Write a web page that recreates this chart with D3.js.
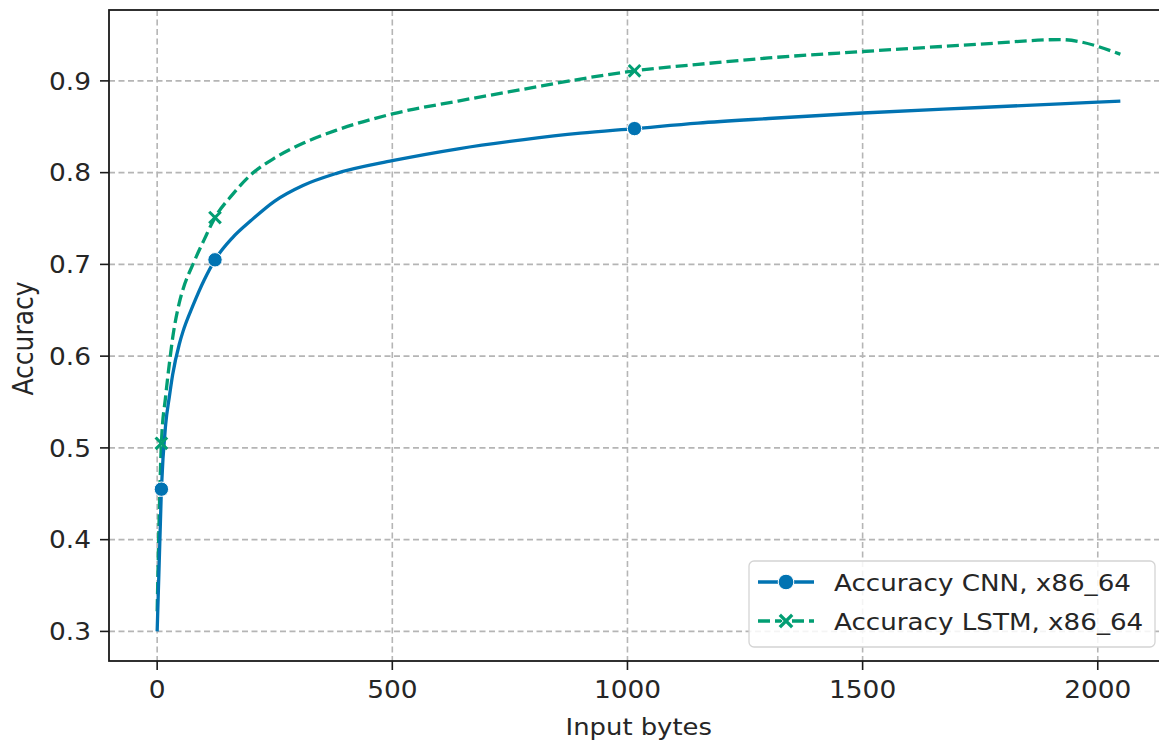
<!DOCTYPE html>
<html>
<head>
<meta charset="utf-8">
<script src="https://cdn.jsdelivr.net/npm/d3@7"></script>
<style>
  html, body { margin: 0; padding: 0; background: #fff; }
  svg text { font-family: "DejaVu Sans", sans-serif; fill: #262626; }
</style>
</head>
<body>
<svg id="chart" width="1159" height="742"></svg>
<script>
// Input sizes (bytes) at which both models were evaluated
const inputBytes = [0, 9, 18, 26, 33, 47, 55, 76, 100, 123, 160, 200, 250, 310, 380, 500, 640, 780, 900, 1015, 1150, 1300, 1500, 1750, 1920, 2048];
// Accuracy of each model at those sizes
const accuracyCNN  = [0.300, 0.455, 0.525, 0.556, 0.580, 0.613, 0.627, 0.655, 0.683, 0.705, 0.729, 0.748, 0.769, 0.786, 0.799, 0.813, 0.826, 0.836, 0.843, 0.848, 0.854, 0.859, 0.865, 0.871, 0.875, 0.878];
const accuracyLSTM = [0.322, 0.505, 0.556, 0.592, 0.620, 0.658, 0.673, 0.700, 0.727, 0.751, 0.776, 0.798, 0.816, 0.832, 0.846, 0.864, 0.878, 0.891, 0.902, 0.911, 0.918, 0.925, 0.932, 0.940, 0.945, 0.929];
// Sizes that carry a marker
const markerBytes = [9, 123, 1015];
const seriesNames = ["Accuracy CNN, x86_64", "Accuracy LSTM, x86_64"];
const xTicks = [0, 500, 1000, 1500, 2000];
const yTicks = [0.3, 0.4, 0.5, 0.6, 0.7, 0.8, 0.9];

const colCNN = "#0173b2", colLSTM = "#029e73";
const sx = 1.1; // horizontal text stretch
const lw = 3.3;
const dash = "12,5";
const svg = d3.select("#chart");

const plot = { left: 109, top: 10, bottom: 661 };
const xMin = d3.min(inputBytes), xMax = d3.max(inputBytes);
const xPad = (xMax - xMin) * 0.05;
const yMin = d3.min([...accuracyCNN, ...accuracyLSTM]);
const yMax = d3.max([...accuracyCNN, ...accuracyLSTM]);
const yPad = (yMax - yMin) * 0.05;

const x = d3.scaleLinear().domain([xMin - xPad, xMax + xPad]).range([plot.left, plot.left + 1059.5]);
const y = d3.scaleLinear().domain([yMin - yPad, yMax + yPad]).range([plot.bottom, plot.top]);
const right = x.range()[1];

// grid
const grid = svg.append("g").attr("stroke", "#b5b5b5").attr("stroke-width", 1.6).attr("stroke-dasharray", "6,3.5");
xTicks.forEach(t => grid.append("line").attr("x1", x(t)).attr("x2", x(t)).attr("y1", plot.top).attr("y2", plot.bottom));
yTicks.forEach(t => grid.append("line").attr("x1", plot.left).attr("x2", right).attr("y1", y(t)).attr("y2", y(t)));

// lines
const cnnData = inputBytes.map((b, i) => [b, accuracyCNN[i]]);
const lstmData = inputBytes.map((b, i) => [b, accuracyLSTM[i]]);
const line = d3.line().x(d => x(d[0])).y(d => y(d[1])).curve(d3.curveMonotoneX);

svg.append("path").datum(lstmData).attr("d", line).attr("fill", "none")
  .attr("stroke", colLSTM).attr("stroke-width", lw).attr("stroke-dasharray", dash);
svg.append("path").datum(cnnData).attr("d", line).attr("fill", "none")
  .attr("stroke", colCNN).attr("stroke-width", lw);

// markers
markerBytes.forEach(b => {
  const i = inputBytes.indexOf(b);
  svg.append("circle").attr("cx", x(b)).attr("cy", y(accuracyCNN[i])).attr("r", 7.2)
    .attr("fill", colCNN).attr("stroke", "#fff").attr("stroke-width", 1);
  const cx = x(b), cy = y(accuracyLSTM[i]), s = 5.8;
  const g = svg.append("g").attr("stroke", colLSTM).attr("stroke-width", 3).attr("stroke-linecap", "butt");
  g.append("line").attr("x1", cx - s).attr("y1", cy - s).attr("x2", cx + s).attr("y2", cy + s);
  g.append("line").attr("x1", cx - s).attr("y1", cy + s).attr("x2", cx + s).attr("y2", cy - s);
});

// frame
svg.append("rect").attr("x", plot.left).attr("y", plot.top).attr("width", right - plot.left)
  .attr("height", plot.bottom - plot.top).attr("fill", "none").attr("stroke", "#1a1a1a").attr("stroke-width", 1.8);

// ticks
const tickG = svg.append("g").attr("stroke", "#1a1a1a").attr("stroke-width", 1.6);
xTicks.forEach(t => tickG.append("line").attr("x1", x(t)).attr("x2", x(t)).attr("y1", plot.bottom).attr("y2", plot.bottom + 9));
yTicks.forEach(t => tickG.append("line").attr("x1", plot.left - 9).attr("x2", plot.left).attr("y1", y(t)).attr("y2", y(t)));

const fmtY = d3.format(".1f");
xTicks.forEach(t => svg.append("text")
  .attr("transform", `translate(${x(t)},698) scale(${sx},1)`)
  .attr("text-anchor", "middle").attr("font-size", 24).text(t));
yTicks.forEach(t => svg.append("text")
  .attr("transform", `translate(91,${y(t) + 8.7}) scale(${sx},1)`)
  .attr("text-anchor", "end").attr("font-size", 24).text(fmtY(t)));

// axis titles
svg.append("text").attr("transform", `translate(${(plot.left + right) / 2},735) scale(${sx},1)`)
  .attr("text-anchor", "middle").attr("font-size", 23.5).text("Input bytes");
svg.append("text").attr("transform", `translate(33,${(plot.top + plot.bottom) / 2 + 3}) scale(${sx},1) rotate(-90)`)
  .attr("text-anchor", "middle").attr("font-size", 25).text("Accuracy");

// legend
const lg = svg.append("g");
lg.append("rect").attr("x", 749).attr("y", 561).attr("width", 406).attr("height", 86).attr("rx", 5)
  .attr("fill", "#fff").attr("fill-opacity", 0.85).attr("stroke", "#d4d4d4").attr("stroke-width", 1.3);
const rows = [582, 621];
lg.append("line").attr("x1", 758).attr("x2", 814).attr("y1", rows[0]).attr("y2", rows[0])
  .attr("stroke", colCNN).attr("stroke-width", lw);
lg.append("circle").attr("cx", 786).attr("cy", rows[0]).attr("r", 7.8).attr("fill", colCNN).attr("stroke", "#fff").attr("stroke-width", 1);
lg.append("line").attr("x1", 758).attr("x2", 814).attr("y1", rows[1]).attr("y2", rows[1])
  .attr("stroke", colLSTM).attr("stroke-width", lw).attr("stroke-dasharray", dash);
// filled X symbol
const xs = 7.8, w = 2.8;
const xPath = `M${-xs},${-xs + w} L${-w},0 L${-xs},${xs - w} L${-xs + w},${xs} L0,${w} L${xs - w},${xs} L${xs},${xs - w} L${w},0 L${xs},${-xs + w} L${xs - w},${-xs} L0,${-w} L${-xs + w},${-xs} Z`;
lg.append("path").attr("d", xPath).attr("transform", `translate(786,${rows[1]})`)
  .attr("fill", colLSTM).attr("stroke", "#fff").attr("stroke-width", 1);
seriesNames.forEach((n, i) => lg.append("text")
  .attr("transform", `translate(834,${rows[i] + 8.6}) scale(${sx},1)`)
  .attr("font-size", 23.8).text(n));
</script>
</body>
</html>
